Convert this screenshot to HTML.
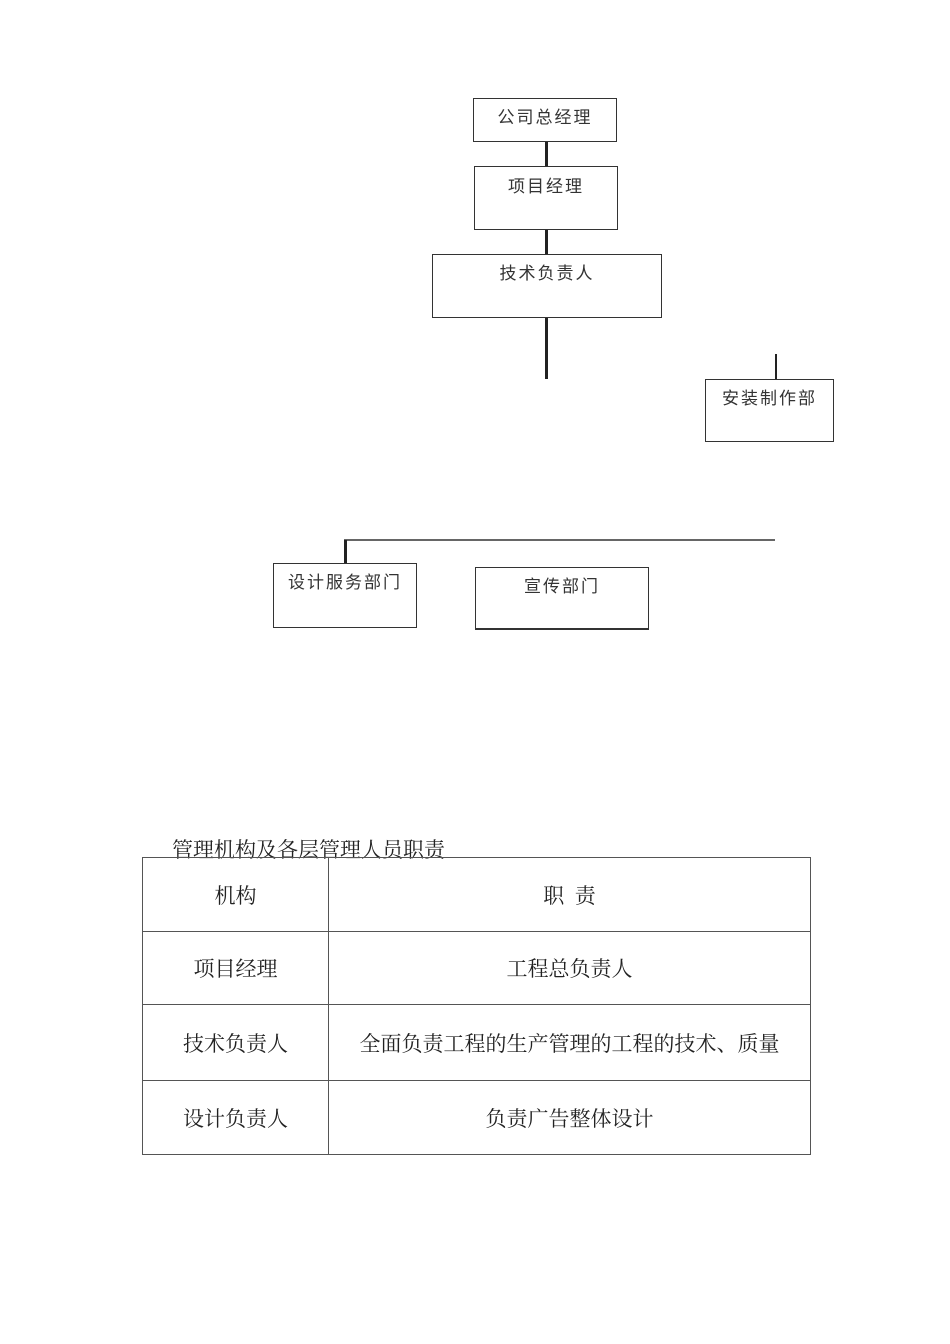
<!DOCTYPE html>
<html><head><meta charset="utf-8"><style>
body{margin:0;width:950px;height:1344px;background:#fff;position:relative;font-family:"Liberation Sans","Noto Sans CJK SC",sans-serif;color:#222;overflow:hidden}
.b{position:absolute;border:1.5px solid #333;box-sizing:border-box;text-align:center;font-size:17px;letter-spacing:2px;color:#333}
.l{position:absolute;background:#222}
table{position:absolute;left:142px;top:857px;border-collapse:collapse;font-family:"Liberation Serif","Noto Serif CJK SC",serif;font-size:21px}
td{border:1px solid #555;text-align:center;padding:0}
</style></head><body>
<div class="b" style="left:473px;top:98px;width:144px;height:44px;padding-top:4px">公司总经理</div>
<div class="l" style="left:545px;top:142px;width:3px;height:24px"></div>
<div class="b" style="left:474px;top:166px;width:144px;height:64px;padding-top:5px">项目经理</div>
<div class="l" style="left:545px;top:230px;width:3px;height:24px"></div>
<div class="b" style="left:432px;top:254px;width:230px;height:64px;padding-top:4px">技术负责人</div>
<div class="l" style="left:545px;top:318px;width:3px;height:61px"></div>
<div class="l" style="left:775px;top:354px;width:2px;height:25px"></div>
<div class="b" style="left:705px;top:379px;width:129px;height:63px;padding-top:4px">安装制作部</div>
<div class="l" style="left:344px;top:539px;width:431px;height:1.5px;background:#666"></div>
<div class="l" style="left:344px;top:540px;width:3px;height:23px"></div>
<div class="b" style="left:273px;top:563px;width:144px;height:65px;padding-top:4px">设计服务部门</div>
<div class="b" style="left:475px;top:567px;width:174px;height:63px;padding-top:4px;border-bottom-width:2.5px">宣传部门</div>
<div style="position:absolute;left:172px;top:834px;font-family:'Liberation Serif','Noto Serif CJK SC',serif;font-size:21px">管理机构及各层管理人员职责</div>
<table>
<tr style="height:74px"><td style="width:185px">机构</td><td style="width:481px">职&nbsp;&nbsp;责</td></tr>
<tr style="height:73px"><td>项目经理</td><td>工程总负责人</td></tr>
<tr style="height:76px"><td>技术负责人</td><td>全面负责工程的生产管理的工程的技术、质量</td></tr>
<tr style="height:74px"><td>设计负责人</td><td>负责广告整体设计</td></tr>
</table>
</body></html>
